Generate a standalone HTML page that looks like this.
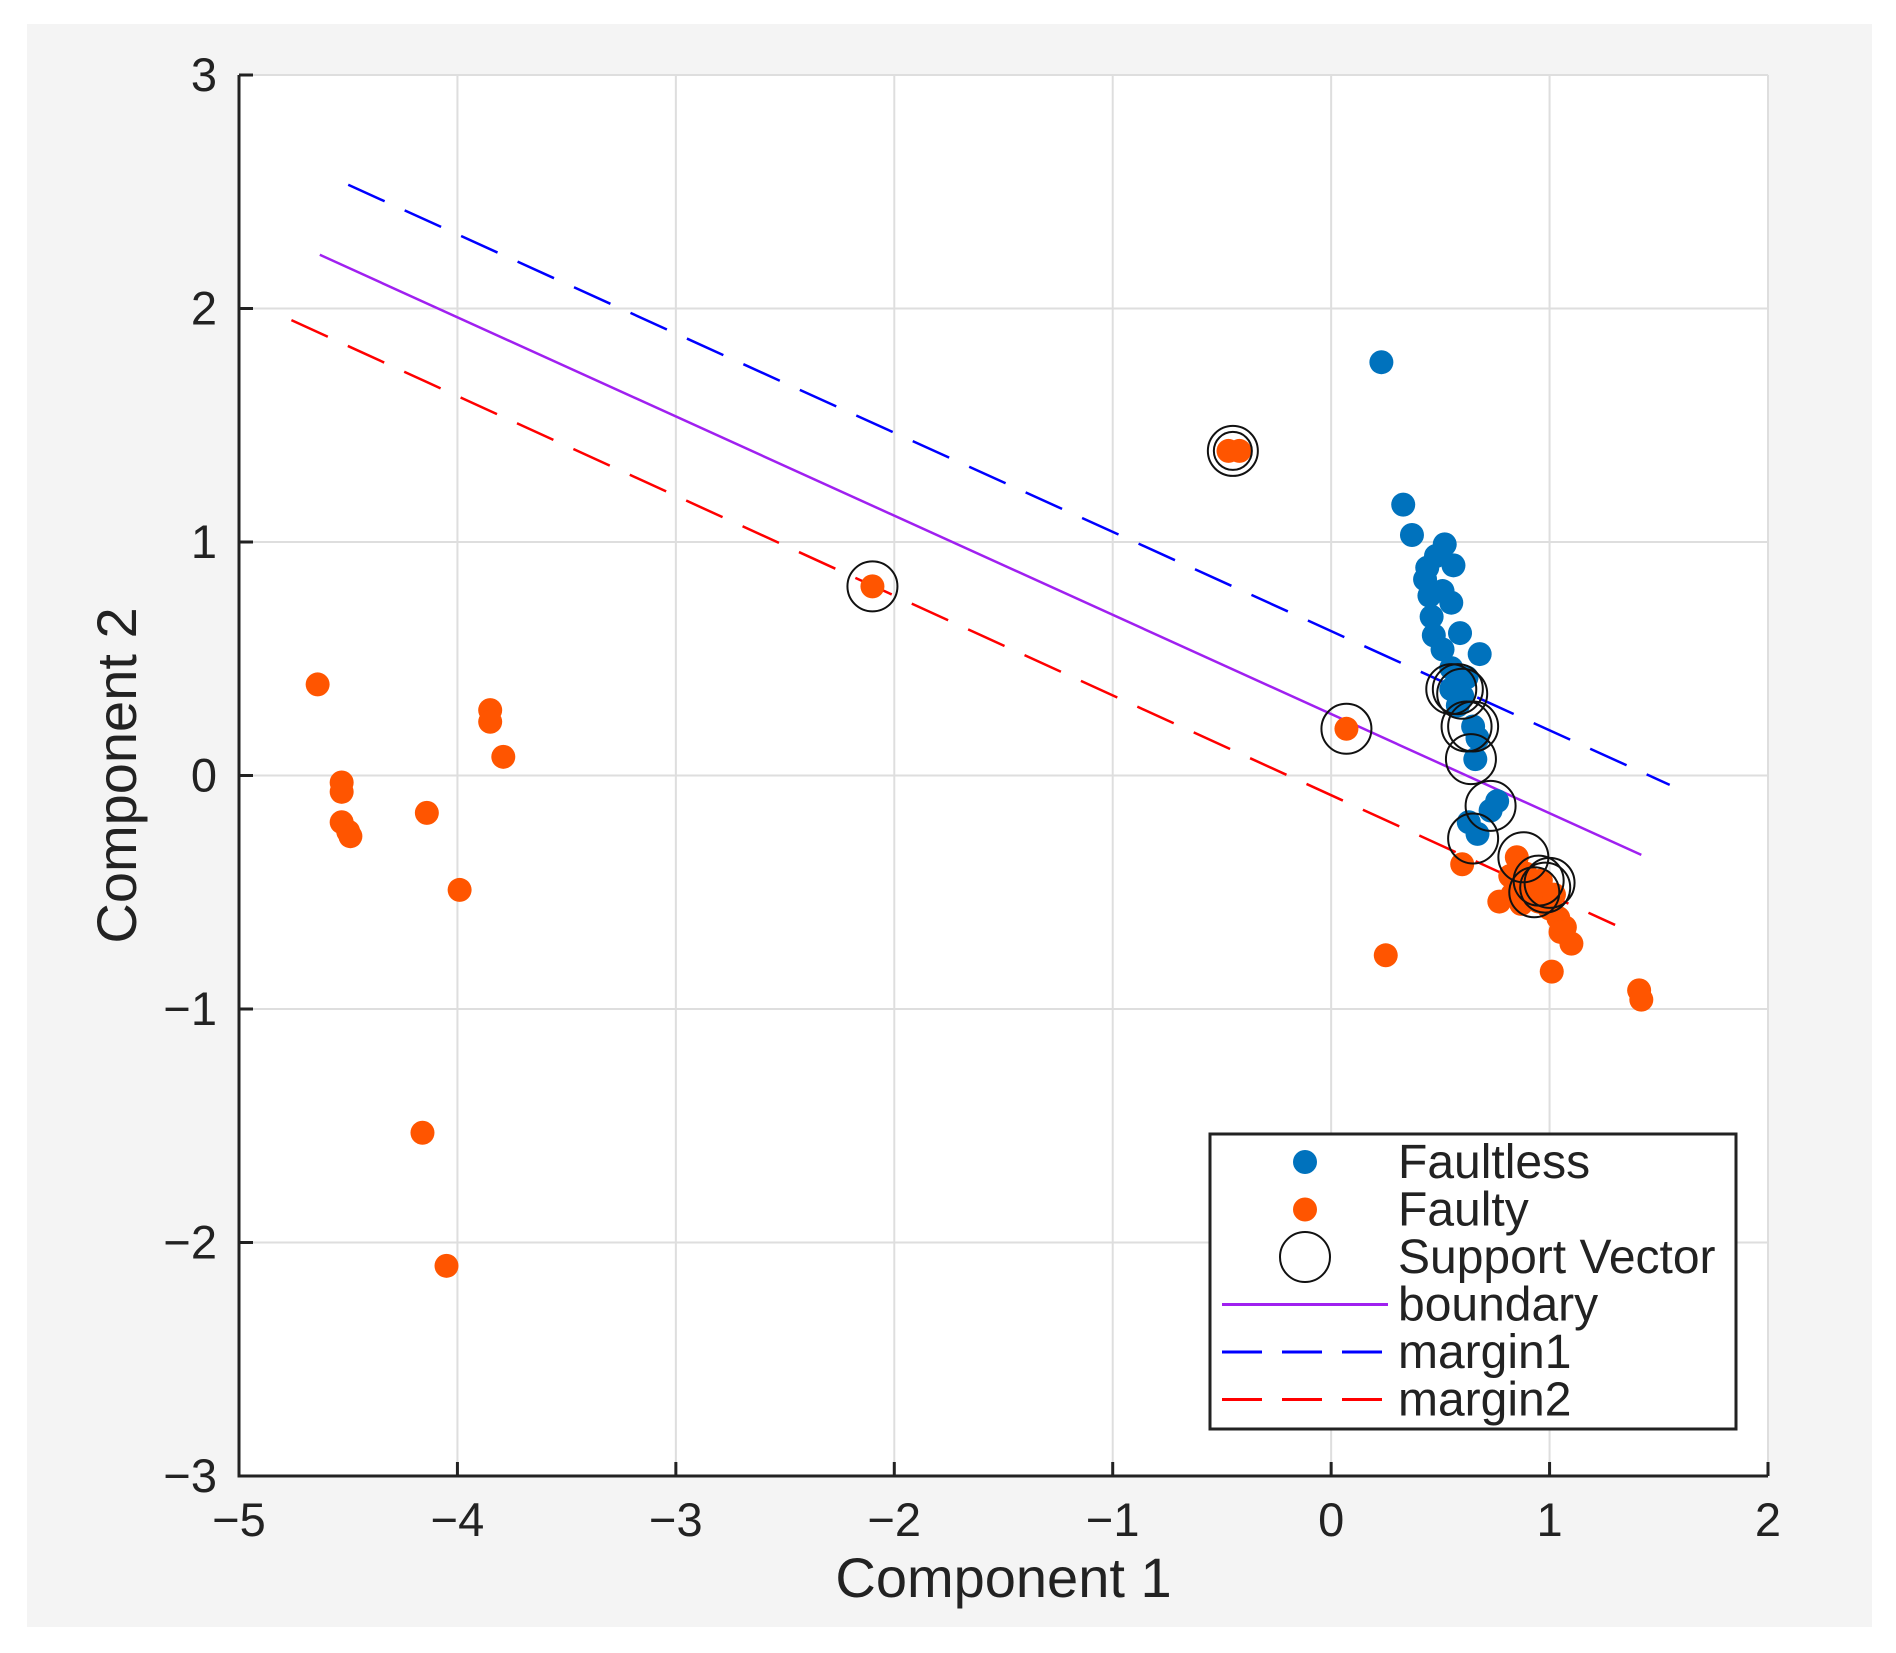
<!DOCTYPE html>
<html><head><meta charset="utf-8"><style>
html,body{margin:0;padding:0;background:#fff;}
svg{display:block;font-family:"Liberation Sans",sans-serif;}
</style></head><body>
<svg id="chart" width="1896" height="1653" viewBox="0 0 1896 1653" xmlns="http://www.w3.org/2000/svg">
<rect x="0" y="0" width="1896" height="1653" fill="#fff"/>
<rect x="27" y="24" width="1845" height="1603" fill="#f4f4f4"/>
<rect x="239" y="75" width="1529" height="1401" fill="#fff"/>
<g id="grid"></g>
<g id="lines"></g>
<g id="points"></g>
<g id="svs"></g>
<g id="axes"></g>
<g id="legend"></g>
</svg>
<script>
const xTicks=[-5,-4,-3,-2,-1,0,1,2];
const yTicks=[-3,-2,-1,0,1,2,3];
const faultyX=[-4.64,-4.53,-4.53,-4.53,-4.50,-4.49,-4.14,-3.85,-3.85,-3.79,-3.99,-4.16,-4.05,-2.10,-0.47,-0.42,0.07,0.25,0.60,1.01,1.41,1.42,0.77,0.83,0.87,0.91,0.95,1.00,1.04,1.07,1.10,1.05,0.85,0.89,0.96,0.82,1.02];
const faultyY=[0.39,-0.03,-0.07,-0.20,-0.24,-0.26,-0.16,0.28,0.23,0.08,-0.49,-1.53,-2.10,0.81,1.39,1.39,0.20,-0.77,-0.38,-0.84,-0.92,-0.96,-0.54,-0.51,-0.55,-0.48,-0.54,-0.57,-0.61,-0.65,-0.72,-0.67,-0.35,-0.42,-0.45,-0.43,-0.51];
const okX=[0.23,0.33,0.37,0.52,0.48,0.44,0.56,0.43,0.45,0.51,0.55,0.46,0.47,0.59,0.51,0.68,0.55,0.62,0.55,0.60,0.58,0.65,0.67,0.66,0.76,0.73,0.67,0.63];
const okY=[1.77,1.16,1.03,0.99,0.94,0.89,0.90,0.84,0.77,0.79,0.74,0.68,0.60,0.61,0.54,0.52,0.46,0.42,0.37,0.34,0.30,0.21,0.16,0.07,-0.11,-0.15,-0.25,-0.20];
const svX=[-0.45,-2.10,0.07,0.55,0.58,0.60,0.62,0.65,0.64,0.73,0.65,0.88,0.95,0.98,0.93,1.00];
const svY=[1.39,0.81,0.20,0.37,0.37,0.35,0.21,0.21,0.07,-0.13,-0.27,-0.35,-0.45,-0.48,-0.50,-0.46];
const boundaryX=[-4.63,1.42], boundaryY=[2.23,-0.34];
const margin1X=[-4.50,1.55], margin1Y=[2.53,-0.04];
const margin2X=[-4.76,1.30], margin2Y=[1.95,-0.64];

const L=239,R=1768,T=75,B=1476;
const sx=v=>L+(v+5)/7*(R-L);
const sy=v=>B-(v+3)/6*(B-T);
const NS="http://www.w3.org/2000/svg";
function mk(tag,attrs,parent){const e=document.createElementNS(NS,tag);for(const k in attrs)e.setAttribute(k,attrs[k]);parent.appendChild(e);return e;}
const grid=document.getElementById('grid'),axes=document.getElementById('axes');
xTicks.forEach(t=>{
  const g=mk('line',{x1:sx(t),x2:sx(t),y1:T,y2:B,stroke:'#dedede','stroke-width':2},grid);
  
  const tk=mk('line',{x1:sx(t),x2:sx(t),y1:B,y2:B-14,stroke:'#222','stroke-width':3},axes);
  
  const tx=mk('text',{x:sx(t),y:B+60,'font-size':47,'text-anchor':'middle',fill:'#222'},axes);
  tx.textContent=(t<0?'\u2212'+(-t):t);
  
});
yTicks.forEach(t=>{
  const g=mk('line',{x1:L,x2:R,y1:sy(t),y2:sy(t),stroke:'#dedede','stroke-width':2},grid);
  
  const tk=mk('line',{x1:L,x2:L+14,y1:sy(t),y2:sy(t),stroke:'#222','stroke-width':3},axes);
  
  const tx=mk('text',{x:L-22,y:sy(t)+16,'font-size':47,'text-anchor':'end',fill:'#222'},axes);
  tx.textContent=(t<0?'\u2212'+(-t):t);
  
});
const ax=mk('path',{d:`M${L} ${T} L${L} ${B} L${R} ${B}`,fill:'none',stroke:'#222','stroke-width':3},axes);

const xt=mk('text',{x:(L+R)/2,y:1597,'font-size':56,'text-anchor':'middle',fill:'#222'},axes);
xt.textContent='Component 1';

const yt=mk('text',{x:0,y:0,'font-size':56,'text-anchor':'middle',fill:'#222',transform:`translate(136,${(T+B)/2}) rotate(-90)`},axes);
yt.textContent='Component 2';


const lines=document.getElementById('lines');
function ln(xs,ys,col,dash,name){
  const e=mk('line',{x1:sx(xs[0]),y1:sy(ys[0]),x2:sx(xs[1]),y2:sy(ys[1]),stroke:col,'stroke-width':2.5},lines);
  if(dash)e.setAttribute('stroke-dasharray',dash);
  
}
ln(boundaryX,boundaryY,'#a020f0',null,'boundary-line');
ln(margin1X,margin1Y,'#0000ff','40 22','margin1-line');
ln(margin2X,margin2Y,'#ff0000','40 22','margin2-line');

const pts=document.getElementById('points');
okX.forEach((v,i)=>{const c=mk('circle',{cx:sx(v),cy:sy(okY[i]),r:12,fill:'#0072bd'},pts);
  });
faultyX.forEach((v,i)=>{const c=mk('circle',{cx:sx(v),cy:sy(faultyY[i]),r:12,fill:'#ff5500'},pts);
  });
const svs=document.getElementById('svs');
svX.forEach((v,i)=>{const c=mk('circle',{cx:sx(v),cy:sy(svY[i]),r:25,fill:'none',stroke:'#111','stroke-width':2},svs);
  });
const c2=mk('circle',{cx:sx(svX[0]),cy:sy(svY[0]),r:19,fill:'none',stroke:'#111','stroke-width':2},svs);


const lg=document.getElementById('legend');
const box=mk('rect',{x:1210,y:1134,width:526,height:295,fill:'#fff',stroke:'#222','stroke-width':3},lg);

const labels=['Faultless','Faulty','Support Vector','boundary','margin1','margin2'];
labels.forEach((s,i)=>{
  const y=1162+i*47.5;
  const g=mk('g',{},lg);
  
  if(i===0){mk('circle',{cx:1305,cy:y,r:12,fill:'#0072bd'},g);}
  else if(i===1){mk('circle',{cx:1305,cy:y,r:12,fill:'#ff5500'},g);}
  else if(i===2){mk('circle',{cx:1305,cy:y,r:25,fill:'none',stroke:'#111','stroke-width':2},g);}
  else{const col=['#a020f0','#0000ff','#ff0000'][i-3];
    const l=mk('line',{x1:1222,x2:1388,y1:y,y2:y,stroke:col,'stroke-width':3},g);
    if(i>3)l.setAttribute('stroke-dasharray','40 20');}
  const t=mk('text',{x:1398,y:y+16,'font-size':48,fill:'#222'},g);
  t.textContent=s;
});
</script>
</body></html>
